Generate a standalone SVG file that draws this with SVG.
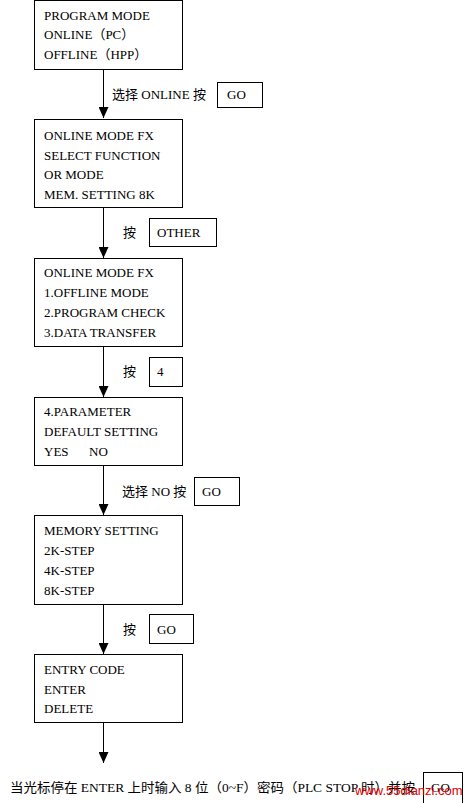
<svg xmlns="http://www.w3.org/2000/svg" width="469" height="803" viewBox="0 0 469 803">
<style>
.box{fill:#fff;stroke:#000;stroke-width:1}
.t{font-family:"Liberation Serif","Noto Sans CJK SC",serif;font-size:13px;fill:#000}
.c{stroke:#000;stroke-width:1;fill:none}
.wm{font-family:"Liberation Sans",Arial,sans-serif;font-size:13px;fill:#e00000}
</style>
<defs>
<marker id="ah" markerWidth="11" markerHeight="10" refX="11" refY="5" orient="auto" markerUnits="userSpaceOnUse" viewBox="0 0 11 10">
<path d="M0,0 L11,5 L0,10 Z" fill="#000"/>
</marker>
</defs>
<rect width="469" height="803" fill="#fff"/>
<g id="connectors">
<line class="c" x1="103.5" y1="69" x2="103.5" y2="118" marker-end="url(#ah)"/>
<line class="c" x1="103.5" y1="207" x2="103.5" y2="258" marker-end="url(#ah)"/>
<line class="c" x1="103.5" y1="346" x2="103.5" y2="397" marker-end="url(#ah)"/>
<line class="c" x1="103.5" y1="465" x2="103.5" y2="515" marker-end="url(#ah)"/>
<line class="c" x1="103.5" y1="604" x2="103.5" y2="654" marker-end="url(#ah)"/>
<line class="c" x1="103.5" y1="722" x2="103.5" y2="763" marker-end="url(#ah)"/>
</g>
<g id="n1">
<rect class="box" x="34.5" y="0.5" width="148" height="69"/>
<text class="t" x="44" y="20">PROGRAM MODE</text>
<text class="t" x="44" y="39">ONLINE（PC）</text>
<text class="t" x="44" y="59">OFFLINE（HPP）</text>
</g>
<g id="l1">
<text class="t" x="112" y="99">选择 ONLINE  按</text>
<rect class="box" x="217.5" y="82.5" width="45" height="25"/>
<text class="t" x="227" y="99">GO</text>
</g>
<g id="n2">
<rect class="box" x="34.5" y="119.5" width="148" height="88"/>
<text class="t" x="44" y="140">ONLINE MODE FX</text>
<text class="t" x="44" y="160">SELECT FUNCTION</text>
<text class="t" x="44" y="179">OR MODE</text>
<text class="t" x="44" y="199">MEM. SETTING 8K</text>
</g>
<g id="l2">
<text class="t" x="123" y="237">按</text>
<rect class="box" x="149.5" y="218.5" width="67" height="28"/>
<text class="t" x="157" y="237">OTHER</text>
</g>
<g id="n3">
<rect class="box" x="34.5" y="258.5" width="148" height="88"/>
<text class="t" x="44" y="277">ONLINE MODE FX</text>
<text class="t" x="44" y="297">1.OFFLINE MODE</text>
<text class="t" x="44" y="317">2.PROGRAM CHECK</text>
<text class="t" x="44" y="337">3.DATA TRANSFER</text>
</g>
<g id="l3">
<text class="t" x="123" y="376">按</text>
<rect class="box" x="149.5" y="357.5" width="33" height="29"/>
<text class="t" x="157" y="376">4</text>
</g>
<g id="n4">
<rect class="box" x="34.5" y="397.5" width="148" height="68"/>
<text class="t" x="44" y="416">4.PARAMETER</text>
<text class="t" x="44" y="436">DEFAULT SETTING</text>
<text class="t" x="44" y="456">YES</text>
<text class="t" x="89" y="456">NO</text>
</g>
<g id="l4">
<text class="t" x="122" y="496">选择 NO 按</text>
<rect class="box" x="194.5" y="477.5" width="45" height="28"/>
<text class="t" x="202" y="496">GO</text>
</g>
<g id="n5">
<rect class="box" x="34.5" y="515.5" width="148" height="89"/>
<text class="t" x="44" y="535">MEMORY SETTING</text>
<text class="t" x="44" y="555">2K-STEP</text>
<text class="t" x="44" y="575">4K-STEP</text>
<text class="t" x="44" y="595">8K-STEP</text>
</g>
<g id="l5">
<text class="t" x="123" y="634">按</text>
<rect class="box" x="149.5" y="614.5" width="44" height="29"/>
<text class="t" x="157" y="634">GO</text>
</g>
<g id="n6">
<rect class="box" x="34.5" y="654.5" width="148" height="68"/>
<text class="t" x="44" y="674">ENTRY CODE</text>
<text class="t" x="44" y="694">ENTER</text>
<text class="t" x="44" y="713">DELETE</text>
</g>
<g id="end">
<text class="t" x="10" y="792" textLength="405" lengthAdjust="spacingAndGlyphs">当光标停在 ENTER 上时输入 8 位（0~F）密码（PLC STOP 时）并按</text>
<rect class="box" x="423.5" y="772.5" width="39" height="31"/>
<text class="t" x="431" y="792">GO</text>
<text class="wm" x="355" y="795">www.55dianzi.com</text>
</g>
</svg>
